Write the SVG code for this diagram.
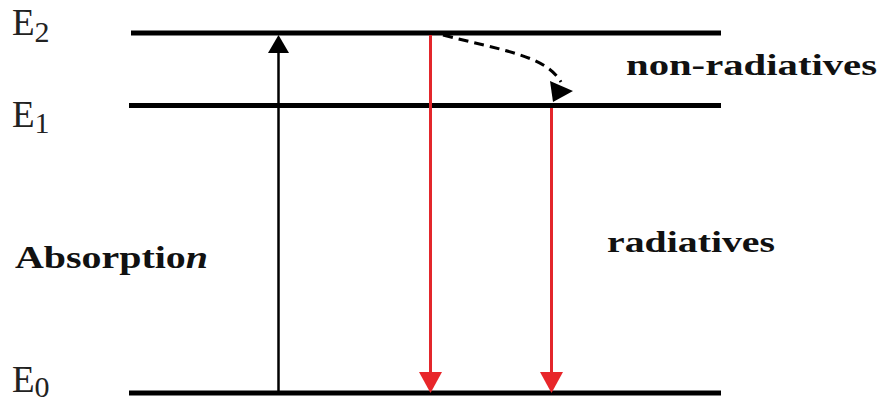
<svg xmlns="http://www.w3.org/2000/svg" width="880" height="403" viewBox="0 0 880 403">
  <defs>
    <style>
      .level { stroke: #000; stroke-width: 5; }
      .lbl { font-family: 'Times New Roman', 'Liberation Serif', Tinos, serif; fill: #222; }
      .bold { font-family: 'Times New Roman', 'Liberation Serif', Tinos, serif; font-weight: bold; fill: #111; }
      .black { stroke: #000; stroke-width: 2.5; fill: none; }
      .red { stroke: #e3262b; stroke-width: 3; fill: none; }
      .dash { stroke: #000; stroke-width: 3; fill: none; stroke-dasharray: 10 6; }
    </style>
  </defs>
  <rect width="880" height="403" fill="#fff"/>

  <!-- energy levels -->
  <g id="level-E2">
    <line class="level" x1="131" y1="33" x2="721" y2="33"/>
    <text class="lbl" font-family="Liberation Serif, serif" x="12" y="35" font-size="37">E<tspan font-size="30" dy="7">2</tspan></text>
  </g>
  <g id="level-E1">
    <line class="level" x1="129" y1="105.5" x2="721" y2="105.5"/>
    <text class="lbl" font-family="Liberation Serif, serif" x="12" y="127" font-size="37">E<tspan font-size="30" dy="6">1</tspan></text>
  </g>
  <g id="level-E0">
    <line class="level" x1="129" y1="393" x2="721" y2="393"/>
    <text class="lbl" font-family="Liberation Serif, serif" x="12" y="392" font-size="37">E<tspan font-size="30" dy="5">0</tspan></text>
  </g>

  <!-- labels -->
  <g id="label-absorption">
    <text class="bold" font-family="Liberation Serif, serif" x="15" y="268" font-size="31" textLength="193" lengthAdjust="spacingAndGlyphs">Absorptio<tspan font-style="italic">n</tspan></text>
  </g>
  <g id="label-nonrad">
    <text class="bold" font-family="Liberation Serif, serif" x="626" y="75" font-size="30" textLength="251" lengthAdjust="spacingAndGlyphs">non-radiatives</text>
  </g>
  <g id="label-rad">
    <text class="bold" font-family="Liberation Serif, serif" x="607" y="252" font-size="29" textLength="168" lengthAdjust="spacingAndGlyphs">radiatives</text>
  </g>

  <!-- transitions -->
  <g id="connectors">
    <!-- absorption E0 -> E2 -->
    <line class="black" x1="278.5" y1="392" x2="278.5" y2="50"/>
    <polygon points="278.5,35 268,53 289,53" fill="#000"/>

    <!-- radiative E2 -> E0 -->
    <line class="red" x1="430.5" y1="35" x2="430.5" y2="375"/>
    <polygon points="419,372 442,372 430.5,393" fill="#e8262a"/>

    <!-- radiative E1 -> E0 -->
    <line class="red" x1="551.5" y1="108" x2="551.5" y2="375"/>
    <polygon points="540,372 563,372 551.5,393" fill="#e8262a"/>

    <!-- non-radiative relaxation E2 -> E1 -->
    <path class="dash" d="M443,35 C500,50 545,55 561,82"/>
    <polygon points="550,81 573,91 553,102" fill="#000"/>
  </g>
</svg>
